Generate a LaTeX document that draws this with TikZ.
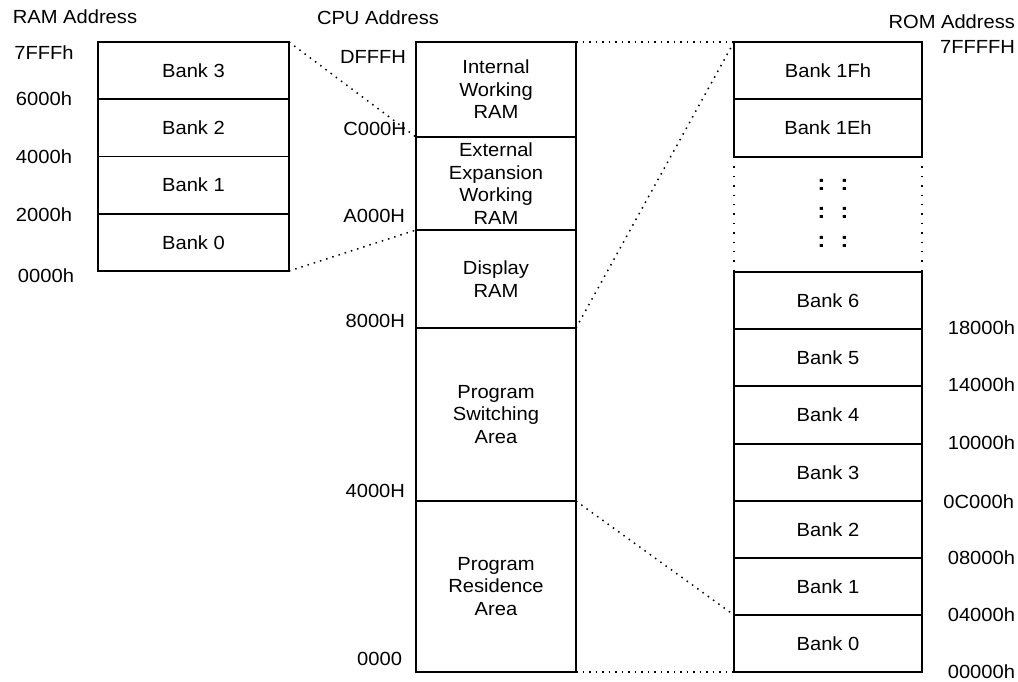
\documentclass[tikz,border=0pt]{standalone}
\usepackage{fontspec}
\setmainfont{Liberation Sans}[FakeStretch=1.06]
\begin{document}
\begin{tikzpicture}[x=1pt,y=-1pt,
  every node/.style={font=\fontsize{19}{22.5}\selectfont, inner sep=0pt, outer sep=0pt},
  cell/.style={draw, line width=1.7pt, align=center},
  ramcell/.style={cell, minimum width=191pt, minimum height=57.25pt},
  cpucell/.style={cell, minimum width=160pt, minimum height=#1},
  romcell/.style={cell, minimum width=188pt, minimum height=#1},
  link/.style={line width=1.5pt, dash pattern=on 1.5pt off 5pt},
  side/.style={line width=1.4pt, dash pattern=on 1.4pt off 8pt},
  dots/.style={font=\fontsize{22}{22.5}\selectfont\bfseries}]
\useasboundingbox (0,0) rectangle (1018,681);

% titles
\node (tRAM) at (75,17) {RAM Address};
\node (tCPU) at (378,18) {CPU Address};
\node[anchor=east] (tROM) at (1015,22) {ROM Address};

% RAM
\node[ramcell] (ram3) at (193.5,70.6) {Bank 3};
\node[ramcell] (ram2) at (193.5,127.9) {Bank 2};
\node[ramcell] (ram1) at (193.5,185.1) {Bank 1};
\node[ramcell] (ram0) at (193.5,242.4) {Bank 0};
\node (a7) at (44,53) {7FFFh};
\node (a6) at (44,99) {6000h};
\node (a4) at (44,157) {4000h};
\node (a2) at (44,215) {2000h};
\node (a0) at (46,276) {0000h};

% CPU
\node[cpucell=95pt] (cpuI) at (496,89.5) {Internal\\Working\\RAM};
\node[cpucell=93pt] (cpuE) at (496,183.5) {External\\Expansion\\Working\\RAM};
\node[cpucell=98pt] (cpuD) at (496,279) {Display\\RAM};
\node[cpucell=173pt] (cpuS) at (496,414.5) {Program\\Switching\\Area};
\node[cpucell=171pt] (cpuR) at (496,586.5) {Program\\Residence\\Area};
\node[anchor=east] (cD) at (406,57) {DFFFH};
\node[anchor=east] (cC) at (406,129) {C000H};
\node[anchor=east] (cA) at (405,216) {A000H};
\node[anchor=east] (c8) at (405,321) {8000H};
\node[anchor=east] (c4) at (405,491) {4000H};
\node[anchor=east] (c0) at (402,659) {0000};

% ROM
\node[romcell=57pt] (rom1F) at (828,70.5) {Bank 1Fh};
\node[romcell=58pt] (rom1E) at (828,128) {Bank 1Eh};
\node[minimum width=188pt, minimum height=115pt] (gap) at (828,214.5) {};
\node[romcell=57pt] (rom6) at (828,300.5) {Bank 6};
\node[romcell=57pt] (rom5) at (828,357.5) {Bank 5};
\node[romcell=58pt] (rom4) at (828,415) {Bank 4};
\node[romcell=57pt] (rom3) at (828,472.5) {Bank 3};
\node[romcell=57pt] (rom2) at (828,529.5) {Bank 2};
\node[romcell=57pt] (rom1) at (828,586.5) {Bank 1};
\node[romcell=57pt] (rom0) at (828,643.5) {Bank 0};
\draw[side] (gap.north west) -- (gap.south west);
\draw[side] (gap.north east) -- (gap.south east);
\node[dots] (d1) at (833,185) {:\hspace{15pt}:};
\node[dots] (d2) at (833,213) {:\hspace{15pt}:};
\node[dots] (d3) at (833,242) {:\hspace{15pt}:};

\node[anchor=east] (r7) at (1015,47) {7FFFFH};
\node[anchor=east] (r18) at (1015,328) {18000h};
\node[anchor=east] (r14) at (1015,385) {14000h};
\node[anchor=east] (r10) at (1015,443) {10000h};
\node[anchor=east] (r0C) at (1014,502) {0C000h};
\node[anchor=east] (r08) at (1015,558) {08000h};
\node[anchor=east] (r04) at (1015,615) {04000h};
\node[anchor=east] (r00) at (1015,672) {00000h};

% mapping connectors
\draw[link] (ram3.north east) -- (cpuI.south west);
\draw[link] (ram0.south east) -- (cpuE.south west);
\draw[link] (cpuI.north east) -- (rom1F.north west);
\draw[link] (cpuD.south east) -- (rom1F.north west);
\draw[link] (cpuS.south east) -- (rom1.south west);
\draw[link] (cpuR.south east) -- (rom0.south west);
\end{tikzpicture}
\end{document}
